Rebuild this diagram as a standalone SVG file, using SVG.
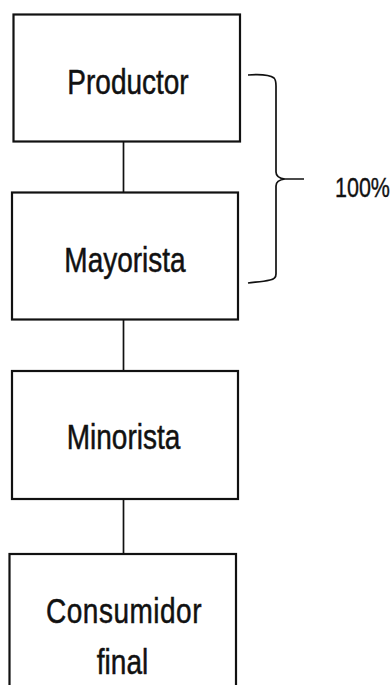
<svg xmlns="http://www.w3.org/2000/svg" width="392" height="685" viewBox="0 0 392 685">
<style>
.box{fill:#fff;stroke:#111;stroke-width:2.2}
.conn{fill:none;stroke:#111;stroke-width:1.7}
.lbl{font-family:"Liberation Sans",Arial,sans-serif;font-size:28px;fill:#111;stroke:#111;stroke-width:0.4;text-anchor:middle}
</style>
<rect width="392" height="685" fill="#fff"/>
<g id="connectors">
<line class="conn" x1="123.5" y1="142" x2="123.5" y2="192.5"/>
<line class="conn" x1="123.5" y1="320" x2="123.5" y2="371"/>
<line class="conn" x1="123.5" y1="499" x2="123.5" y2="554"/>
<path class="conn" d="M248,75 C262,74 270,75 274,78 Q276,80 276,86 L276,172 Q276,178 285,179 L304,179 M285,179 Q276,180 276,186 L276,274 Q276,279 270,280 C262,282 255,282 248,283"/>
</g>
<g id="productor">
<rect class="box" x="13.5" y="14.5" width="226.5" height="127"/>
<text class="lbl" transform="translate(128,93.5) scale(1,1.25)">Productor</text>
</g>
<g id="mayorista">
<rect class="box" x="12" y="192.5" width="226" height="127"/>
<text class="lbl" transform="translate(125,272) scale(1,1.25)">Mayorista</text>
</g>
<g id="minorista">
<rect class="box" x="12" y="371" width="226" height="128"/>
<text class="lbl" transform="translate(123.5,448.5) scale(1,1.25)">Minorista</text>
</g>
<g id="consumidor">
<rect class="box" x="9.5" y="554" width="226.5" height="140"/>
<text class="lbl" transform="translate(124,622.5) scale(1,1.25)" letter-spacing="0.5">Consumidor</text>
<text class="lbl" transform="translate(122.5,673.5) scale(1,1.25)">final</text>
</g>
<g id="percent">
<text transform="translate(335,196.5) scale(1,1.3)" style="font-family:'Liberation Sans',Arial,sans-serif;font-size:21.5px;fill:#111;stroke:#111;stroke-width:0.3">100%</text>
</g>
</svg>
